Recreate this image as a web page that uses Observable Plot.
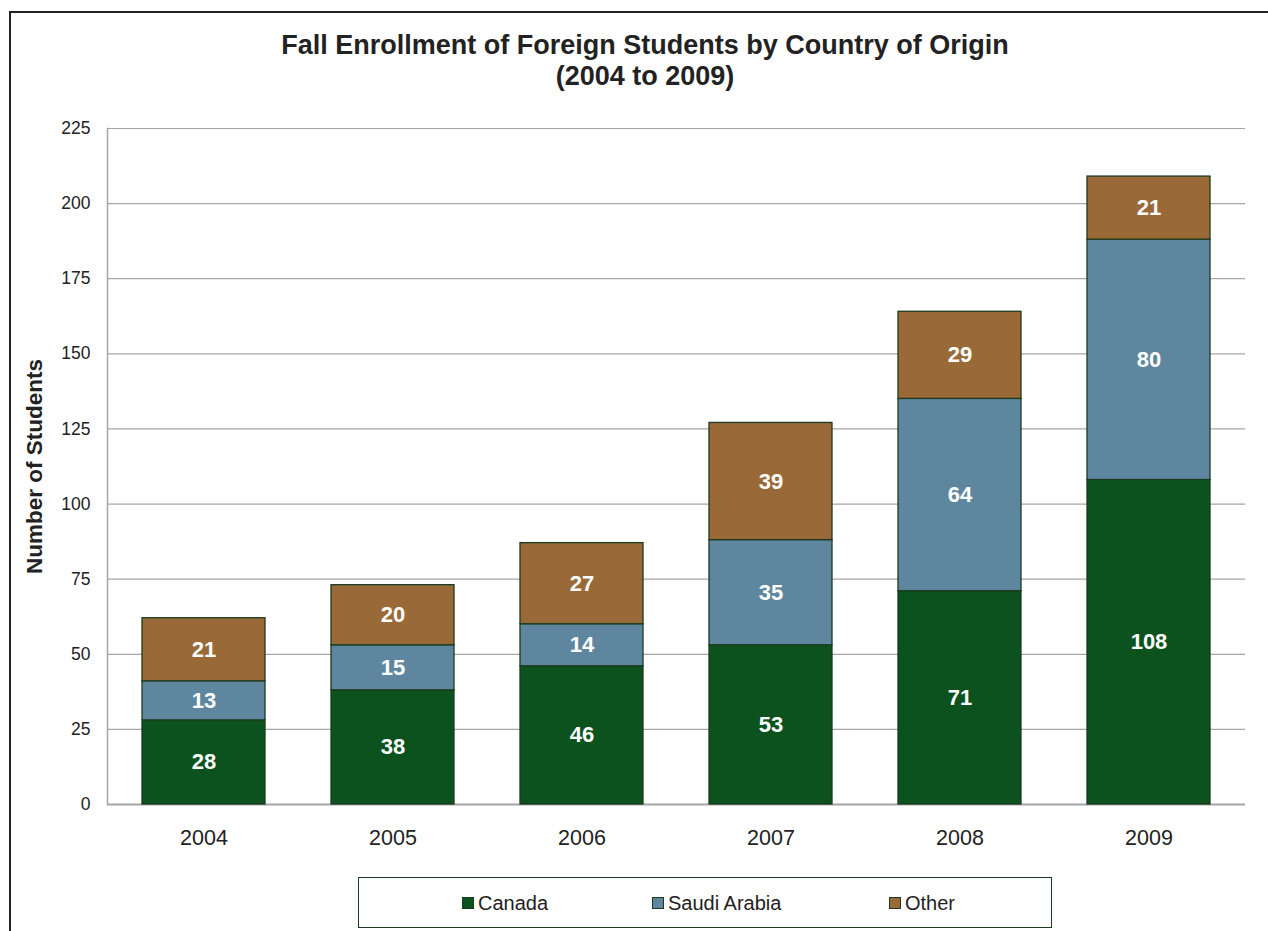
<!DOCTYPE html>
<html>
<head>
<meta charset="utf-8">
<script src="https://cdn.jsdelivr.net/npm/d3@7"></script>
<script src="https://cdn.jsdelivr.net/npm/@observablehq/plot@0.6"></script>
<style>
  html, body { margin: 0; padding: 0; background: #fff; }
  #wrap { position: relative; width: 1268px; height: 931px; overflow: hidden; font-family: "Liberation Sans", Arial, sans-serif; }
  #wrap svg { position: absolute; left: 0; top: 0; }
  .frameTop { position: absolute; left: 9px; top: 11px; width: 1259px; height: 2px; background: #222; }
  .frameLeft { position: absolute; left: 9px; top: 11px; width: 2px; height: 920px; background: #222; }
  #title { position: absolute; left: 0; top: 30px; width: 1290px; text-align: center; font-weight: bold; font-size: 27px; line-height: 31px; color: #222; }
  #legend { position: absolute; left: 358px; top: 877px; width: 694px; height: 51px; border: 1px solid #1b3b1f; box-sizing: border-box; font-size: 20px; color: #222; }
  .item { position: absolute; top: 14px; display: flex; align-items: center; height: 22px; }
  .sw { width: 10px; height: 10px; border: 1px solid #1b3b1f; margin-right: 4px; }
</style>
</head>
<body>
<div id="wrap">
  <div class="frameTop"></div>
  <div class="frameLeft"></div>
  <div id="title">Fall Enrollment of Foreign Students by Country of Origin<br>(2004 to 2009)</div>
  <div id="legend"></div>
</div>
<script>
const years = ["2004", "2005", "2006", "2007", "2008", "2009"];
const seriesNames = ["Canada", "Saudi Arabia", "Other"];
const canada = [28, 38, 46, 53, 71, 108];
const saudi = [13, 15, 14, 35, 64, 80];
const other = [21, 20, 27, 39, 29, 21];
const colors = ["#0b521f", "#5e879f", "#996937"];
const yTicks = [0, 25, 50, 75, 100, 125, 150, 175, 200, 225];

const seriesValues = [canada, saudi, other];
const data = [];
seriesNames.forEach((s, si) => years.forEach((y, i) => data.push({year: y, series: s, value: seriesValues[si][i]})));

const chart = Plot.plot({
  width: 1268,
  height: 931,
  marginLeft: 107,
  marginRight: 23,
  marginTop: 128,
  marginBottom: 127,
  style: {fontFamily: "'Liberation Sans', Arial, sans-serif", background: "transparent", overflow: "visible"},
  x: {domain: years, paddingInner: 0.35, paddingOuter: 0.175, label: null},
  y: {domain: [0, 225], label: null},
  color: {domain: seriesNames, range: colors},
  marks: [
    Plot.gridY(yTicks, {stroke: "#a6a6a6", strokeOpacity: 1, strokeWidth: 1.2}),
    Plot.frame({anchor: "left", stroke: "#a6a6a6", strokeWidth: 1.5}),
    Plot.ruleY([0], {stroke: "#a6a6a6", strokeWidth: 2}),
    Plot.barY(data, {x: "year", y: "value", fill: "series", z: "series", order: seriesNames, stroke: "#1b3b1f", strokeWidth: 1.3}),
    Plot.text(data, Plot.stackY({x: "year", y: "value", z: "series", order: seriesNames, text: d => String(d.value), fill: "white", fontWeight: "bold", fontSize: 22})),
    Plot.axisY({ticks: yTicks, tickSize: 0, tickPadding: 17, fontSize: 17.5, fill: "#222", label: null}),
    Plot.axisX({tickSize: 0, tickPadding: 25, fontSize: 21.5, fill: "#222", label: null}),
    Plot.text(["Number of Students"], {frameAnchor: "left", textAnchor: "middle", rotate: -90, dx: -73, fontWeight: "bold", fontSize: 22.5, fill: "#222"})
  ]
});
document.getElementById("wrap").prepend(chart);

const legend = document.getElementById("legend");
const lefts = [103, 293, 530];
seriesNames.forEach((s, i) => {
  const it = document.createElement("div");
  it.className = "item";
  it.style.left = lefts[i] + "px";
  const sw = document.createElement("div");
  sw.className = "sw";
  sw.style.background = colors[i];
  const t = document.createElement("span");
  t.textContent = s;
  it.append(sw, t);
  legend.append(it);
});
</script>
</body>
</html>
